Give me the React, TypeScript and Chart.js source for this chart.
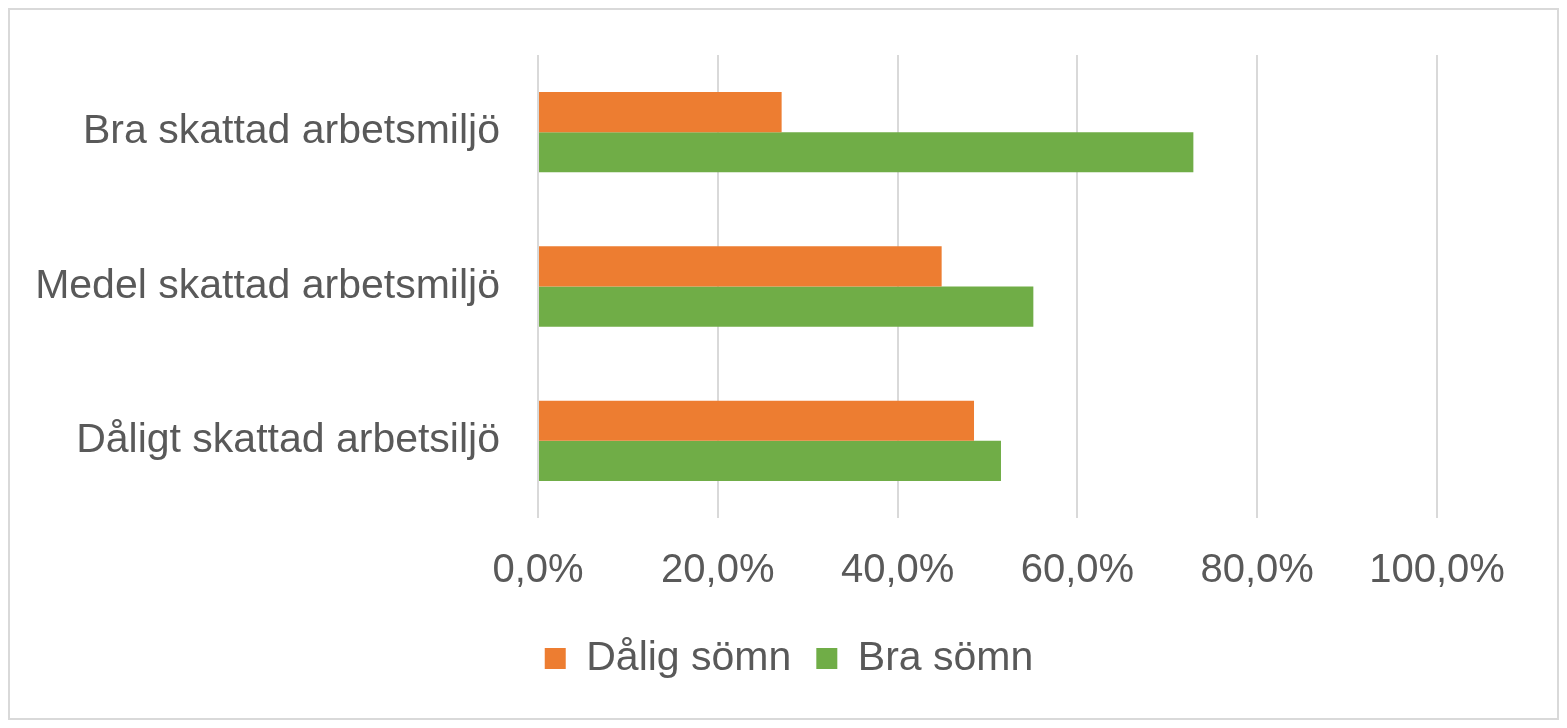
import { useEffect, useRef } from "react"
import { Chart, Plugin, registerables } from "chart.js"

Chart.register(...registerables)

const categories = ["Bra skattad arbetsmiljö", "Medel skattad arbetsmiljö", "Dåligt skattad arbetsiljö"]
const seriesNames = ["Dålig sömn", "Bra sömn"]
const daligSomn = [27.1, 44.9, 48.5]
const braSomn = [72.9, 55.1, 51.5]
const xTicks = [0, 20, 40, 60, 80, 100]

const colors = ["#ED7D31", "#70AD47"]
const textColor = "#595959"
const gridColor = "#D9D9D9"
const fontFamily = "'Liberation Sans', Arial, sans-serif"

// legend in the original sits centred under the plot, not under the whole canvas
const legendShift: Plugin<"bar"> = {
  id: "legendShift",
  afterLayout(chart) {
    const legend = chart.legend
    if (!legend) return
    const shift = chart.chartArea.left - legend.left - 397
    legend.left += shift
    legend.width -= shift
  },
}

export default function App() {
  const chartRef = useRef<HTMLCanvasElement>(null)
  const chartInstance = useRef<Chart | null>(null)

  useEffect(() => {
    if (!chartRef.current) return
    if (chartInstance.current) chartInstance.current.destroy()
    const ctx = chartRef.current.getContext("2d")
    if (!ctx) return

    chartInstance.current = new Chart(ctx, {
      type: "bar",
      data: {
        labels: categories,
        datasets: [daligSomn, braSomn].map((values, i) => ({
          label: seriesNames[i],
          data: values,
          backgroundColor: colors[i],
          borderWidth: 0,
          barPercentage: 1,
          categoryPercentage: 0.52,
        })),
      },
      options: {
        indexAxis: "y",
        animation: false,
        responsive: true,
        maintainAspectRatio: false,
        layout: { padding: { top: 45, left: 0, right: 120, bottom: 29 } },
        scales: {
          x: {
            min: 0,
            max: 100,
            afterBuildTicks: (scale) => {
              scale.ticks = xTicks.map((v) => ({ value: v }))
            },
            afterFit: (scale) => {
              scale.height = 95
            },
            border: { display: false },
            grid: { color: gridColor, lineWidth: 2, drawTicks: true, tickLength: 29, tickColor: "rgba(0,0,0,0)" },
            ticks: {
              padding: 0,
              color: textColor,
              font: { family: fontFamily, size: 40 },
              callback: (v) => Number(v).toFixed(1).replace(".", ",") + "%",
            },
          },
          y: {
            afterFit: (scale) => {
              scale.width = 528
            },
            border: { display: false },
            grid: { display: false, drawTicks: true, tickLength: 38 },
            ticks: {
              padding: 0,
              color: textColor,
              font: { family: fontFamily, size: 41 },
            },
          },
        },
        plugins: {
          legend: {
            position: "bottom",
            labels: {
              boxWidth: 21,
              boxHeight: 21,
              padding: 25,
              color: textColor,
              font: { family: fontFamily, size: 41 },
            },
          },
          tooltip: { enabled: false },
        },
      },
      plugins: [legendShift],
    })

    return () => {
      if (chartInstance.current) chartInstance.current.destroy()
    }
  }, [])

  return (
    <div
      style={{
        height: 712,
        border: "2px solid #D9D9D9",
        boxSizing: "border-box",
        background: "#fff",
      }}
    >
      <div style={{ position: "relative", width: "100%", height: "100%" }}>
        <canvas ref={chartRef} />
      </div>
    </div>
  )
}
